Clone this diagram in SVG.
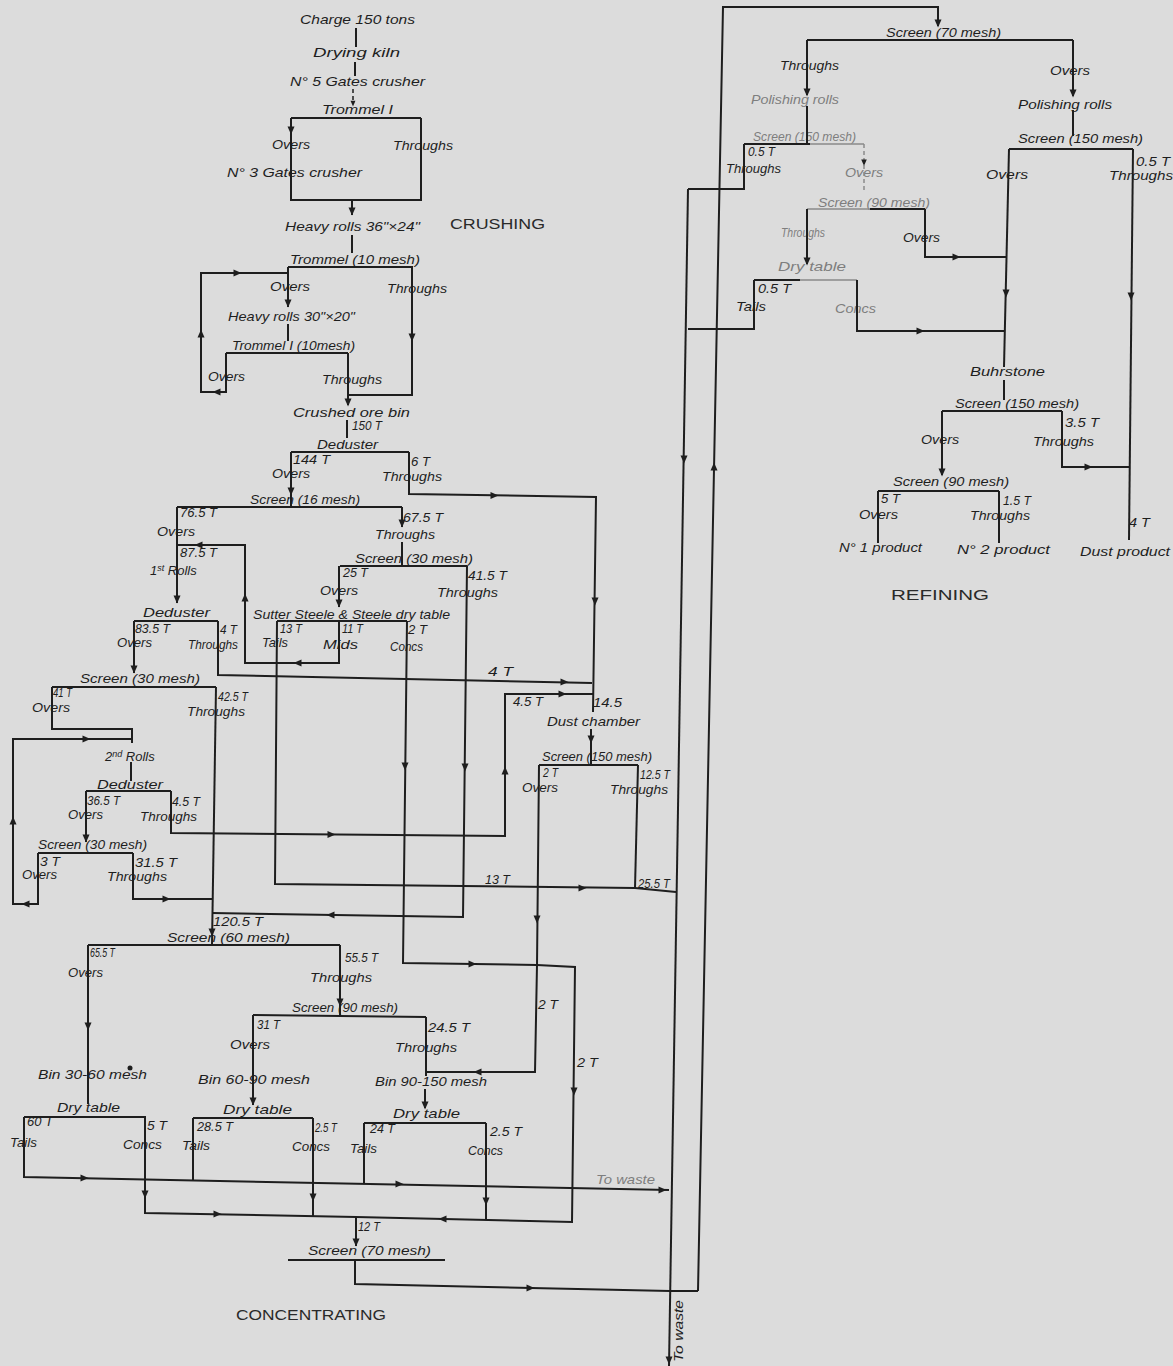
<svg xmlns="http://www.w3.org/2000/svg" width="1173" height="1366" viewBox="0 0 1173 1366">
<defs>
<style>
text{font-family:"Liberation Sans",Arial,sans-serif;font-style:italic;font-size:13px;fill:#1e1e1e}
.f{fill:#7e7e7e}
.h{font-style:normal;font-size:15px;fill:#2a2a2a}
path{fill:none;stroke:#1e1e1e;stroke-width:2}
.lf{stroke:#8a8a8a;stroke-width:1.5}
.d{stroke-dasharray:4 3}
use{fill:#1e1e1e;stroke:none}
</style>
<path id="a" d="M-3.5,-4.5 L3.5,-4.5 L0,3.5 Z" style="fill:#1e1e1e;stroke:none"/>
</defs>
<rect width="1173" height="1366" fill="#dcdcdc"/>

<g id="crushing" lengthAdjust="spacingAndGlyphs">
<g id="charge"><text x="300" y="24" textLength="115" lengthAdjust="spacingAndGlyphs">Charge 150 tons</text></g>
<g id="drying-kiln"><text x="313" y="57" textLength="87" lengthAdjust="spacingAndGlyphs">Drying kiln</text></g>
<g id="gates-crusher-5"><text x="290" y="86" textLength="135" lengthAdjust="spacingAndGlyphs">N° 5 Gates crusher</text></g>
<g id="trommel-1"><text x="322" y="114" textLength="71" lengthAdjust="spacingAndGlyphs">Trommel I</text><path d="M291,118 H421"/><text x="272" y="149" textLength="38" lengthAdjust="spacingAndGlyphs">Overs</text><text x="393" y="150" textLength="60" lengthAdjust="spacingAndGlyphs">Throughs</text></g>
<g id="gates-crusher-3"><text x="227" y="177" textLength="135" lengthAdjust="spacingAndGlyphs">N° 3 Gates crusher</text></g>
<g id="heavy-rolls-36"><text x="285" y="231" textLength="135" lengthAdjust="spacingAndGlyphs">Heavy rolls 36"×24"</text></g>
<text class="h" x="450" y="229" textLength="95" lengthAdjust="spacingAndGlyphs">CRUSHING</text>
<g id="trommel-10"><text x="290" y="264" textLength="130" lengthAdjust="spacingAndGlyphs">Trommel (10 mesh)</text><path d="M288,267 H413"/><text x="270" y="291" textLength="40" lengthAdjust="spacingAndGlyphs">Overs</text><text x="387" y="293" textLength="60" lengthAdjust="spacingAndGlyphs">Throughs</text></g>
<g id="heavy-rolls-30"><text x="228" y="321" textLength="127" lengthAdjust="spacingAndGlyphs">Heavy rolls 30"×20"</text></g>
<g id="trommel-2"><text x="232" y="350" textLength="123" lengthAdjust="spacingAndGlyphs">Trommel I (10mesh)</text><path d="M226,353 H348"/><text x="208" y="381" textLength="37" lengthAdjust="spacingAndGlyphs">Overs</text><text x="322" y="384" textLength="60" lengthAdjust="spacingAndGlyphs">Throughs</text></g>
<g id="crushed-ore-bin"><text x="293" y="417" textLength="117" lengthAdjust="spacingAndGlyphs">Crushed ore bin</text><text x="352" y="430" textLength="30" lengthAdjust="spacingAndGlyphs">150 T</text></g>
</g>

<g id="concentrating">
<g id="deduster-1"><text x="317" y="449" textLength="61" lengthAdjust="spacingAndGlyphs">Deduster</text><path d="M291,452 H409"/><text x="293" y="464" textLength="37" lengthAdjust="spacingAndGlyphs">144 T</text><text x="272" y="478" textLength="38" lengthAdjust="spacingAndGlyphs">Overs</text><text x="411" y="466" textLength="19" lengthAdjust="spacingAndGlyphs">6 T</text><text x="382" y="481" textLength="60" lengthAdjust="spacingAndGlyphs">Throughs</text></g>
<g id="screen-16"><text x="250" y="504" textLength="110" lengthAdjust="spacingAndGlyphs">Screen (16 mesh)</text><path d="M177,507 H402"/><text x="180" y="517" textLength="37" lengthAdjust="spacingAndGlyphs">76.5 T</text><text x="157" y="536" textLength="38" lengthAdjust="spacingAndGlyphs">Overs</text><text x="403" y="522" textLength="40" lengthAdjust="spacingAndGlyphs">67.5 T</text><text x="375" y="539" textLength="60" lengthAdjust="spacingAndGlyphs">Throughs</text></g>
<g id="first-rolls"><text x="180" y="557" textLength="37" lengthAdjust="spacingAndGlyphs">87.5 T</text><text x="150" y="575">1<tspan font-size="9" dy="-4">st</tspan><tspan dy="4"> Rolls</tspan></text></g>
<g id="screen-30-a"><text x="355" y="563" textLength="118" lengthAdjust="spacingAndGlyphs">Screen (30 mesh)</text><path d="M340,566 H467"/><text x="343" y="577" textLength="25" lengthAdjust="spacingAndGlyphs">25 T</text><text x="320" y="595" textLength="38" lengthAdjust="spacingAndGlyphs">Overs</text><text x="468" y="580" textLength="39" lengthAdjust="spacingAndGlyphs">41.5 T</text><text x="437" y="597" textLength="61" lengthAdjust="spacingAndGlyphs">Throughs</text></g>
<g id="sutter-table"><text x="253" y="619" textLength="197" lengthAdjust="spacingAndGlyphs">Sutter Steele &amp; Steele dry table</text><path d="M277,621 H407"/><text x="280" y="633" textLength="22" lengthAdjust="spacingAndGlyphs">13 T</text><text x="262" y="647" textLength="26" lengthAdjust="spacingAndGlyphs">Tails</text><text x="342" y="633" textLength="21" lengthAdjust="spacingAndGlyphs">11 T</text><text x="323" y="649" textLength="35" lengthAdjust="spacingAndGlyphs">Mids</text><text x="408" y="634" textLength="19" lengthAdjust="spacingAndGlyphs">2 T</text><text x="390" y="651" textLength="33" lengthAdjust="spacingAndGlyphs">Concs</text></g>
<g id="deduster-2"><text x="143" y="617" textLength="67" lengthAdjust="spacingAndGlyphs">Deduster</text><path d="M134,621 H218"/><text x="135" y="633" textLength="35" lengthAdjust="spacingAndGlyphs">83.5 T</text><text x="117" y="647" textLength="35" lengthAdjust="spacingAndGlyphs">Overs</text><text x="220" y="634" textLength="17" lengthAdjust="spacingAndGlyphs">4 T</text><text x="188" y="649" textLength="50" lengthAdjust="spacingAndGlyphs">Throughs</text></g>
<g id="screen-30-b"><text x="80" y="683" textLength="120" lengthAdjust="spacingAndGlyphs">Screen (30 mesh)</text><path d="M52,687 H216"/><text x="53" y="697" textLength="19" lengthAdjust="spacingAndGlyphs">41 T</text><text x="32" y="712" textLength="38" lengthAdjust="spacingAndGlyphs">Overs</text><text x="218" y="701" textLength="30" lengthAdjust="spacingAndGlyphs">42.5 T</text><text x="187" y="716" textLength="58" lengthAdjust="spacingAndGlyphs">Throughs</text></g>
<g id="second-rolls"><text x="105" y="761">2<tspan font-size="9" dy="-4">nd</tspan><tspan dy="4"> Rolls</tspan></text></g>
<g id="deduster-3"><text x="97" y="789" textLength="66" lengthAdjust="spacingAndGlyphs">Deduster</text><path d="M86,791 H171"/><text x="87" y="805" textLength="33" lengthAdjust="spacingAndGlyphs">36.5 T</text><text x="68" y="819" textLength="35" lengthAdjust="spacingAndGlyphs">Overs</text><text x="172" y="806" textLength="28" lengthAdjust="spacingAndGlyphs">4.5 T</text><text x="140" y="821" textLength="57" lengthAdjust="spacingAndGlyphs">Throughs</text></g>
<g id="screen-30-c"><text x="38" y="849" textLength="109" lengthAdjust="spacingAndGlyphs">Screen (30 mesh)</text><path d="M38,853 H133"/><text x="40" y="866" textLength="20" lengthAdjust="spacingAndGlyphs">3 T</text><text x="22" y="879" textLength="35" lengthAdjust="spacingAndGlyphs">Overs</text><text x="135" y="867" textLength="42" lengthAdjust="spacingAndGlyphs">31.5 T</text><text x="107" y="881" textLength="60" lengthAdjust="spacingAndGlyphs">Throughs</text></g>
<g id="dust-chamber"><text x="593" y="707" textLength="29" lengthAdjust="spacingAndGlyphs">14.5</text><text x="547" y="726" textLength="93" lengthAdjust="spacingAndGlyphs">Dust chamber</text></g>
<g id="screen-150-a"><text x="542" y="761" textLength="110" lengthAdjust="spacingAndGlyphs">Screen (150 mesh)</text><path d="M539,765 H638"/><text x="543" y="777" textLength="15" lengthAdjust="spacingAndGlyphs">2 T</text><text x="522" y="792" textLength="36" lengthAdjust="spacingAndGlyphs">Overs</text><text x="640" y="779" textLength="30" lengthAdjust="spacingAndGlyphs">12.5 T</text><text x="610" y="794" textLength="58" lengthAdjust="spacingAndGlyphs">Throughs</text></g>
<g id="screen-60"><text x="213" y="926" textLength="50" lengthAdjust="spacingAndGlyphs">120.5 T</text><text x="167" y="942" textLength="123" lengthAdjust="spacingAndGlyphs">Screen (60 mesh)</text><path d="M88,945 H340"/><text x="90" y="957" textLength="25" lengthAdjust="spacingAndGlyphs">65.5 T</text><text x="68" y="977" textLength="35" lengthAdjust="spacingAndGlyphs">Overs</text><text x="345" y="962" textLength="33" lengthAdjust="spacingAndGlyphs">55.5 T</text><text x="310" y="982" textLength="62" lengthAdjust="spacingAndGlyphs">Throughs</text></g>
<g id="screen-90"><text x="292" y="1012" textLength="106" lengthAdjust="spacingAndGlyphs">Screen (90 mesh)</text><path d="M253,1015 L426,1017"/><text x="257" y="1029" textLength="23" lengthAdjust="spacingAndGlyphs">31 T</text><text x="230" y="1049" textLength="40" lengthAdjust="spacingAndGlyphs">Overs</text><text x="428" y="1032" textLength="42" lengthAdjust="spacingAndGlyphs">24.5 T</text><text x="395" y="1052" textLength="62" lengthAdjust="spacingAndGlyphs">Throughs</text></g>
<g id="bin-30-60"><text x="38" y="1079" textLength="109" lengthAdjust="spacingAndGlyphs">Bin 30-60 mesh</text><circle cx="130" cy="1068" r="2.5" fill="#1e1e1e"/></g>
<g id="bin-60-90"><text x="198" y="1084" textLength="112" lengthAdjust="spacingAndGlyphs">Bin 60-90 mesh</text></g>
<g id="bin-90-150"><text x="375" y="1086" textLength="112" lengthAdjust="spacingAndGlyphs">Bin 90-150 mesh</text></g>
<g id="dry-table-1"><text x="57" y="1112" textLength="63" lengthAdjust="spacingAndGlyphs">Dry table</text><path d="M24,1117 H146"/><text x="27" y="1126" textLength="26" lengthAdjust="spacingAndGlyphs">60 T</text><text x="10" y="1147" textLength="27" lengthAdjust="spacingAndGlyphs">Tails</text><text x="147" y="1130" textLength="20" lengthAdjust="spacingAndGlyphs">5 T</text><text x="123" y="1149" textLength="39" lengthAdjust="spacingAndGlyphs">Concs</text></g>
<g id="dry-table-2"><text x="223" y="1114" textLength="69" lengthAdjust="spacingAndGlyphs">Dry table</text><path d="M193,1118 H313"/><text x="197" y="1131" textLength="36" lengthAdjust="spacingAndGlyphs">28.5 T</text><text x="182" y="1150" textLength="28" lengthAdjust="spacingAndGlyphs">Tails</text><text x="315" y="1132" textLength="22" lengthAdjust="spacingAndGlyphs">2.5 T</text><text x="292" y="1151" textLength="38" lengthAdjust="spacingAndGlyphs">Concs</text></g>
<g id="dry-table-3"><text x="393" y="1118" textLength="67" lengthAdjust="spacingAndGlyphs">Dry table</text><path d="M364,1123 H486"/><text x="370" y="1133" textLength="25" lengthAdjust="spacingAndGlyphs">24 T</text><text x="350" y="1153" textLength="27" lengthAdjust="spacingAndGlyphs">Tails</text><text x="490" y="1136" textLength="32" lengthAdjust="spacingAndGlyphs">2.5 T</text><text x="468" y="1155" textLength="35" lengthAdjust="spacingAndGlyphs">Concs</text></g>
<g id="screen-70-a"><text x="358" y="1231" textLength="22" lengthAdjust="spacingAndGlyphs">12 T</text><text x="308" y="1255" textLength="123" lengthAdjust="spacingAndGlyphs">Screen (70 mesh)</text><path d="M288,1260 H445"/></g>
<text class="h" x="236" y="1320" textLength="150" lengthAdjust="spacingAndGlyphs">CONCENTRATING</text>
</g>

<g id="refining">
<g id="screen-70-b"><text x="886" y="37" textLength="115" lengthAdjust="spacingAndGlyphs">Screen (70 mesh)</text><path d="M807,40 H1073"/><text x="780" y="70" textLength="59" lengthAdjust="spacingAndGlyphs">Throughs</text><text x="1050" y="75" textLength="40" lengthAdjust="spacingAndGlyphs">Overs</text></g>
<g id="polishing-rolls-a"><text class="f" x="751" y="104" textLength="88" lengthAdjust="spacingAndGlyphs">Polishing rolls</text></g>
<g id="polishing-rolls-b"><text x="1018" y="109" textLength="94" lengthAdjust="spacingAndGlyphs">Polishing rolls</text></g>
<g id="screen-150-b"><text class="f" x="753" y="141" textLength="103" lengthAdjust="spacingAndGlyphs">Screen (150 mesh)</text><path d="M744,144 H810"/><path class="lf" d="M810,144 H864"/><text x="748" y="156" textLength="27" lengthAdjust="spacingAndGlyphs">0.5 T</text><text x="726" y="173" textLength="55" lengthAdjust="spacingAndGlyphs">Throughs</text><text class="f" x="845" y="177" textLength="38" lengthAdjust="spacingAndGlyphs">Overs</text></g>
<g id="screen-150-c"><text x="1018" y="143" textLength="125" lengthAdjust="spacingAndGlyphs">Screen (150 mesh)</text><path d="M1009,149 H1133"/><text x="986" y="179" textLength="42" lengthAdjust="spacingAndGlyphs">Overs</text><text x="1136" y="166" textLength="34" lengthAdjust="spacingAndGlyphs">0.5 T</text><text x="1109" y="180" textLength="64" lengthAdjust="spacingAndGlyphs">Throughs</text></g>
<g id="screen-90-b"><text class="f" x="818" y="207" textLength="112" lengthAdjust="spacingAndGlyphs">Screen (90 mesh)</text><path class="lf" d="M807,209 H870"/><path d="M870,209 H925"/><text class="f" x="781" y="237" textLength="44" lengthAdjust="spacingAndGlyphs">Throughs</text><text x="903" y="242" textLength="37" lengthAdjust="spacingAndGlyphs">Overs</text></g>
<g id="dry-table-4"><text class="f" x="778" y="271" textLength="68" lengthAdjust="spacingAndGlyphs">Dry table</text><path d="M754,280 H800"/><path class="lf" d="M800,280 H857"/><text x="758" y="293" textLength="33" lengthAdjust="spacingAndGlyphs">0.5 T</text><text x="736" y="311" textLength="30" lengthAdjust="spacingAndGlyphs">Tails</text><text class="f" x="835" y="313" textLength="41" lengthAdjust="spacingAndGlyphs">Concs</text></g>
<g id="buhrstone"><text x="970" y="376" textLength="75" lengthAdjust="spacingAndGlyphs">Buhrstone</text></g>
<g id="screen-150-d"><text x="955" y="408" textLength="124" lengthAdjust="spacingAndGlyphs">Screen (150 mesh)</text><path d="M942,411 H1062"/><text x="1065" y="427" textLength="34" lengthAdjust="spacingAndGlyphs">3.5 T</text><text x="921" y="444" textLength="38" lengthAdjust="spacingAndGlyphs">Overs</text><text x="1033" y="446" textLength="61" lengthAdjust="spacingAndGlyphs">Throughs</text></g>
<g id="screen-90-c"><text x="893" y="486" textLength="116" lengthAdjust="spacingAndGlyphs">Screen (90 mesh)</text><path d="M878,491 H999"/><text x="881" y="503" textLength="19" lengthAdjust="spacingAndGlyphs">5 T</text><text x="859" y="519" textLength="39" lengthAdjust="spacingAndGlyphs">Overs</text><text x="1003" y="505" textLength="28" lengthAdjust="spacingAndGlyphs">1.5 T</text><text x="970" y="520" textLength="60" lengthAdjust="spacingAndGlyphs">Throughs</text></g>
<g id="product-1"><text x="839" y="552" textLength="83" lengthAdjust="spacingAndGlyphs">N° 1 product</text></g>
<g id="product-2"><text x="957" y="554" textLength="93" lengthAdjust="spacingAndGlyphs">N° 2 product</text></g>
<g id="dust-product"><text x="1129" y="527" textLength="21" lengthAdjust="spacingAndGlyphs">4 T</text><text x="1080" y="556" textLength="90" lengthAdjust="spacingAndGlyphs">Dust product</text></g>
<text class="h" x="891" y="600" textLength="98" lengthAdjust="spacingAndGlyphs">REFINING</text>
</g>

<g id="connectors">
<!-- crushing -->
<path d="M356,28 V47"/>
<path d="M355,62 V76"/>
<path class="d" d="M353,89 V101" style="stroke-width:1.5"/>
<use href="#a" transform="translate(353,104) scale(0.7)"/>
<path d="M291,118 V200 H421 V118"/>
<use href="#a" transform="translate(291,131)"/>
<path d="M352,200 V215"/>
<use href="#a" transform="translate(352,212)"/>
<path d="M352,235 V253"/>
<path d="M288,267 V307"/>
<use href="#a" transform="translate(288,304)"/>
<path d="M226,353 V392 H201 V273 H288"/>
<use href="#a" transform="translate(216,392) rotate(90)"/>
<use href="#a" transform="translate(201,333) rotate(180)"/>
<use href="#a" transform="translate(238,273) rotate(-90)"/>
<path d="M288,324 V341"/>
<path d="M412,267 V395 H348"/>
<use href="#a" transform="translate(412,338)"/>
<path d="M348,353 V405"/>
<use href="#a" transform="translate(348,403)"/>
<path d="M347,420 V438"/>
<!-- concentrating -->
<path d="M291,452 V507"/>
<use href="#a" transform="translate(291,492)"/>
<path d="M409,452 V494 L596,497 L593,712"/>
<use href="#a" transform="translate(495,495.5) rotate(-90)"/>
<use href="#a" transform="translate(595,602)"/>
<path d="M402,507 V527"/>
<use href="#a" transform="translate(402,524)"/>
<path d="M402,542 V566"/>
<path d="M177,507 V603"/>
<use href="#a" transform="translate(177,600)"/>
<path d="M339,566 V607"/>
<use href="#a" transform="translate(339,604)"/>
<path d="M467,566 L463,917 L212,913"/>
<use href="#a" transform="translate(465,768)"/>
<use href="#a" transform="translate(330,915) rotate(90)"/>
<path d="M407,621 L403,963 L537,965"/>
<use href="#a" transform="translate(405,767)"/>
<use href="#a" transform="translate(473,964) rotate(-90)"/>
<path d="M277,621 L275,884 L635,888 L676,892"/>
<use href="#a" transform="translate(583,888) rotate(-90)"/>
<path d="M638,765 L635,888"/>
<path d="M339,621 V663 H245 V545 H177"/>
<use href="#a" transform="translate(297,663) rotate(90)"/>
<use href="#a" transform="translate(245,597) rotate(180)"/>
<use href="#a" transform="translate(198,545) rotate(90)"/>
<path d="M218,621 V675 L592,683"/>
<text x="488" y="676" textLength="25" lengthAdjust="spacingAndGlyphs">4 T</text>
<use href="#a" transform="translate(565,682) rotate(-90)"/>
<path d="M134,621 V673"/>
<use href="#a" transform="translate(134,670)"/>
<path d="M52,687 V729 H132 V743"/>
<path d="M38,853 V904 H13 V739 H132"/>
<use href="#a" transform="translate(25,904) rotate(90)"/>
<use href="#a" transform="translate(13,820) rotate(180)"/>
<use href="#a" transform="translate(87,739) rotate(-90)"/>
<path d="M216,687 L212,945"/>
<use href="#a" transform="translate(212,933)"/>
<path d="M131,762 V781"/>
<path d="M86,791 V842"/>
<use href="#a" transform="translate(86,839)"/>
<path d="M171,791 V833 L505,836 V694 H593"/>
<use href="#a" transform="translate(332,834.5) rotate(-90)"/>
<use href="#a" transform="translate(505,770) rotate(180)"/>
<use href="#a" transform="translate(563,694) rotate(-90)"/>
<text x="513" y="706" textLength="30" lengthAdjust="spacingAndGlyphs">4.5 T</text>
<path d="M133,853 V899 H212"/>
<use href="#a" transform="translate(167,899) rotate(-90)"/>
<path d="M591,729 V765"/>
<use href="#a" transform="translate(591,740)"/>
<text x="485" y="884" textLength="25" lengthAdjust="spacingAndGlyphs">13 T</text>
<text x="638" y="888" textLength="32" lengthAdjust="spacingAndGlyphs">25.5 T</text>
<path d="M539,765 L537,965 L535,1072 H426"/>
<use href="#a" transform="translate(537,920)"/>
<use href="#a" transform="translate(477,1072) rotate(90)"/>
<text x="538" y="1009" textLength="20" lengthAdjust="spacingAndGlyphs">2 T</text>
<path d="M537,965 L575,967 L572,1222 L356,1217"/>
<use href="#a" transform="translate(574,1092)"/>
<use href="#a" transform="translate(442,1219) rotate(90)"/>
<text x="577" y="1067" textLength="21" lengthAdjust="spacingAndGlyphs">2 T</text>
<path d="M88,945 V1104"/>
<use href="#a" transform="translate(88,1027)"/>
<path d="M340,945 V1015"/>
<use href="#a" transform="translate(340,1003)"/>
<path d="M253,1015 V1105"/>
<use href="#a" transform="translate(253,1102)"/>
<path d="M426,1017 V1076"/>
<path d="M425,1089 V1108"/>
<use href="#a" transform="translate(425,1106)"/>
<path d="M24,1117 V1177 L669,1190"/>
<use href="#a" transform="translate(85,1178) rotate(-90)"/>
<use href="#a" transform="translate(400,1184) rotate(-90)"/>
<use href="#a" transform="translate(663,1190) rotate(-90)"/>
<text class="f" x="596" y="1184" font-size="11" textLength="59" lengthAdjust="spacingAndGlyphs">To waste</text>
<path d="M193,1118 V1180"/>
<path d="M364,1123 V1184"/>
<path d="M145,1117 V1213 L356,1217"/>
<use href="#a" transform="translate(145,1195)"/>
<use href="#a" transform="translate(218,1214) rotate(-90)"/>
<path d="M313,1118 V1216"/>
<use href="#a" transform="translate(313,1198)"/>
<path d="M486,1123 V1220"/>
<use href="#a" transform="translate(486,1202)"/>
<path d="M356,1217 V1246"/>
<use href="#a" transform="translate(356,1243)"/>
<path d="M355,1260 V1284 L670,1291 H698"/>
<use href="#a" transform="translate(531,1288) rotate(-90)"/>
<!-- waste main line -->
<path d="M688,189 L669,1366"/>
<use href="#a" transform="translate(684,460)"/>
<use href="#a" transform="translate(669,1361)"/>
<text x="0" y="0" font-size="12" transform="translate(683,1362) rotate(-90)" textLength="62" lengthAdjust="spacingAndGlyphs">To waste</text>
<!-- feed to refining -->
<path d="M698,1291 L723,7 H938 V26"/>
<use href="#a" transform="translate(714,466) rotate(180)"/>
<use href="#a" transform="translate(938,24)"/>
<!-- refining -->
<path d="M744,144 V189 H688"/>
<path d="M754,280 V329 H688"/>
<path d="M807,40 V95"/>
<use href="#a" transform="translate(807,93)"/>
<path d="M807,106 V144"/>
<path d="M1073,40 V96"/>
<use href="#a" transform="translate(1073,94)"/>
<path d="M1073,110 V136"/>
<path class="lf d" d="M864,144 V193"/>
<use href="#a" transform="translate(864,163) scale(0.8)" style="fill:#777"/>
<path d="M807,209 V264"/>
<use href="#a" transform="translate(807,262)"/>
<path d="M925,209 V257 H1006"/>
<use href="#a" transform="translate(957,257) rotate(-90)"/>
<path d="M857,280 V331 H1005"/>
<use href="#a" transform="translate(921,331) rotate(-90)"/>
<path d="M1009,149 L1004,367"/>
<use href="#a" transform="translate(1006,294)"/>
<path d="M1004,380 V400"/>
<path d="M1133,149 L1129,540"/>
<use href="#a" transform="translate(1131,297)"/>
<path d="M942,411 V475"/>
<use href="#a" transform="translate(942,473)"/>
<path d="M1062,411 V467 H1129"/>
<use href="#a" transform="translate(1089,467) rotate(-90)"/>
<path d="M878,491 V543"/>
<path d="M999,491 V543"/>
</g>
</svg>
